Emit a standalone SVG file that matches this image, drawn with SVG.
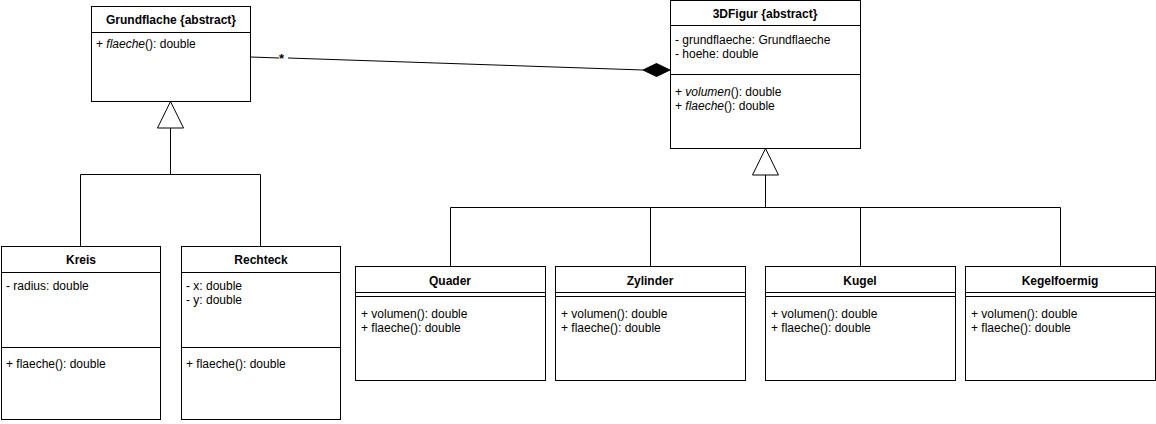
<svg xmlns="http://www.w3.org/2000/svg" width="1156" height="424" viewBox="0 0 1156 424">
<style>
.box{fill:#fff;stroke:#000;stroke-width:1}
.ln{stroke:#000;stroke-width:1;fill:none}
text{font-family:"Liberation Sans",Arial,sans-serif;font-size:12px;fill:#000}
.t{font-weight:bold;text-anchor:middle}
.i{font-style:italic}
</style>
<rect width="1156" height="424" fill="#fff"/>
<g id="connectors">
<path class="ln" d="M250.5 57 L279 58 M288 58 L643 70"/>
<polygon points="643,70 656.5,63.5 670,70 656.5,76.5" fill="#000" stroke="#000"/>
<text x="279" y="63" style="font-weight:bold;font-size:13px">*</text>
<path class="ln" d="M170.5 128 V174.5 M80.5 246 V174.5 H260.5 V246"/>
<polygon class="box" points="170.5,101.5 157.5,128 183.5,128"/>
<path class="ln" d="M765.5 175 V207.5 M450.5 266 V207.5 H1060.5 V266 M650.5 207.5 V266 M860.5 207.5 V266"/>
<polygon class="box" points="765.5,148.5 752.5,175 778.5,175"/>
</g>
<g id="Grundflache">
<rect class="box" x="91.5" y="6.5" width="159" height="95"/>
<line class="ln" x1="91.5" y1="32.5" x2="250.5" y2="32.5"/>
<text class="t" x="171" y="24">Grundflache {abstract}</text>
<text x="96" y="48">+ <tspan class="i">flaeche</tspan>(): double</text>
</g>
<g id="Figur3D">
<rect class="box" x="670.5" y="0.5" width="190" height="148"/>
<line class="ln" x1="670.5" y1="25.5" x2="860.5" y2="25.5"/>
<line class="ln" x1="670.5" y1="74.5" x2="860.5" y2="74.5"/>
<text class="t" x="765" y="18">3DFigur {abstract}</text>
<text x="675" y="44">- grundflaeche: Grundflaeche</text>
<text x="675" y="58">- hoehe: double</text>
<text x="675" y="96">+ <tspan class="i">volumen</tspan>(): double</text>
<text x="675" y="110">+ <tspan class="i">flaeche</tspan>(): double</text>
</g>
<g id="Kreis">
<rect class="box" x="1.5" y="246.5" width="159" height="173"/>
<line class="ln" x1="1.5" y1="272.5" x2="160.5" y2="272.5"/>
<line class="ln" x1="1.5" y1="347.5" x2="160.5" y2="347.5"/>
<text class="t" x="81" y="264">Kreis</text>
<text x="6" y="290">- radius: double</text>
<text x="6" y="368">+ flaeche(): double</text>
</g>
<g id="Rechteck">
<rect class="box" x="181.5" y="246.5" width="159" height="173"/>
<line class="ln" x1="181.5" y1="272.5" x2="340.5" y2="272.5"/>
<line class="ln" x1="181.5" y1="347.5" x2="340.5" y2="347.5"/>
<text class="t" x="261" y="264">Rechteck</text>
<text x="186" y="290">- x: double</text>
<text x="186" y="304">- y: double</text>
<text x="186" y="368">+ flaeche(): double</text>
</g>
<g id="Quader">
<rect class="box" x="355.5" y="266.5" width="190" height="114"/>
<line class="ln" x1="355.5" y1="292.5" x2="545.5" y2="292.5"/>
<line class="ln" x1="355.5" y1="296.5" x2="545.5" y2="296.5"/>
<text class="t" x="450" y="285">Quader</text>
<text x="361" y="318">+ volumen(): double</text>
<text x="361" y="332">+ flaeche(): double</text>
</g>
<g id="Zylinder">
<rect class="box" x="555.5" y="266.5" width="190" height="114"/>
<line class="ln" x1="555.5" y1="292.5" x2="745.5" y2="292.5"/>
<line class="ln" x1="555.5" y1="296.5" x2="745.5" y2="296.5"/>
<text class="t" x="650" y="285">Zylinder</text>
<text x="561" y="318">+ volumen(): double</text>
<text x="561" y="332">+ flaeche(): double</text>
</g>
<g id="Kugel">
<rect class="box" x="765.5" y="266.5" width="190" height="114"/>
<line class="ln" x1="765.5" y1="292.5" x2="955.5" y2="292.5"/>
<line class="ln" x1="765.5" y1="296.5" x2="955.5" y2="296.5"/>
<text class="t" x="860" y="285">Kugel</text>
<text x="771" y="318">+ volumen(): double</text>
<text x="771" y="332">+ flaeche(): double</text>
</g>
<g id="Kegelfoermig">
<rect class="box" x="965.5" y="266.5" width="190" height="114"/>
<line class="ln" x1="965.5" y1="292.5" x2="1155.5" y2="292.5"/>
<line class="ln" x1="965.5" y1="296.5" x2="1155.5" y2="296.5"/>
<text class="t" x="1060" y="285">Kegelfoermig</text>
<text x="971" y="318">+ volumen(): double</text>
<text x="971" y="332">+ flaeche(): double</text>
</g>
</svg>
